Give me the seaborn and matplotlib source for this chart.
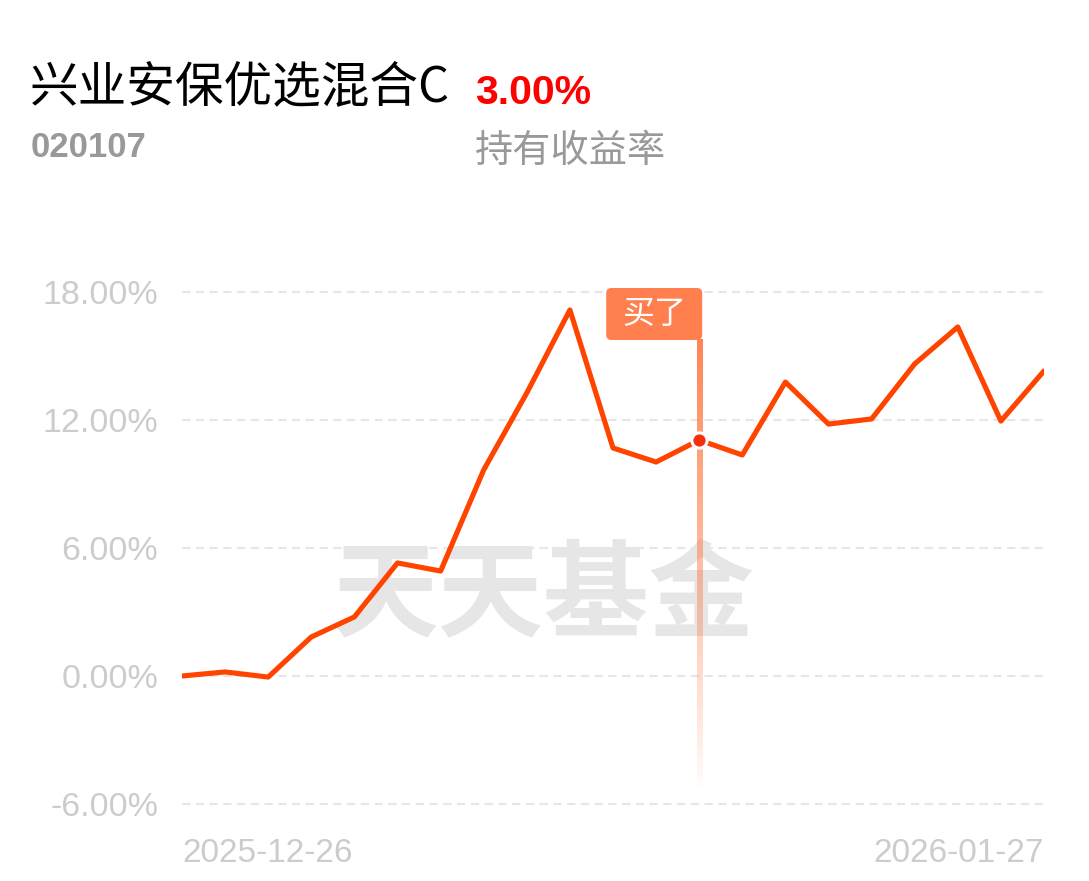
import numpy as np
import pandas as pd
import matplotlib
matplotlib.use("Agg")
import matplotlib.pyplot as plt
import seaborn as sns
from matplotlib.patches import FancyBboxPatch
from matplotlib.colors import to_rgba

# ---- data ----
dates = ["2025-12-26", "2025-12-29", "2025-12-30", "2025-12-31", "2026-01-05",
         "2026-01-06", "2026-01-07", "2026-01-08", "2026-01-09", "2026-01-12",
         "2026-01-13", "2026-01-14", "2026-01-15", "2026-01-16", "2026-01-19",
         "2026-01-20", "2026-01-21", "2026-01-22", "2026-01-23", "2026-01-26",
         "2026-01-27"]
returns = [0.00, 0.19, -0.05, 1.83, 2.77, 5.30, 4.92, 9.66, 13.27, 17.16,
           10.69, 10.03, 11.06, 10.36, 13.78, 11.81, 12.05, 14.63, 16.36, 11.95,
           14.30]
buy_date = "2026-01-15"
y_ticks = [-6, 0, 6, 12, 18]
y_tick_labels = [f"{v:.2f}%" for v in y_ticks]
x_tick_labels = [dates[0], dates[-1]]
fund_name = "兴业安保优选混合C"
fund_code = "020107"
hold_return = "3.00%"
hold_label = "持有收益率"
buy_label = "买了"
watermark = "天天基金"

df = pd.DataFrame({"idx": np.arange(len(dates)), "date": dates, "ret": returns})
buy_idx = dates.index(buy_date)
buy_val = returns[buy_idx]

# ---- style ----
sns.set_theme(style="white")
plt.rcParams["font.family"] = ["Liberation Sans", "Noto Sans CJK SC", "DejaVu Sans"]

W, H = 1089, 881
fig = plt.figure(figsize=(W / 100, H / 100), dpi=100)
fig.patch.set_facecolor("white")

ylo, yhi = -6.3, 18.6
ax = fig.add_axes([182 / W, 1 - 810.4 / H, 862 / W, (810.4 - 279.2) / H])
ax.set_facecolor("white")

LINE = "#FF4400"
GRID = "#e6e6e6"
TICK = "#cccccc"

# grid lines
for v in y_ticks:
    ax.axhline(v, color=GRID, lw=1.5, ls=(0, (4, 2.6)), zorder=0)

# watermark
ax.text(0.42, 0.40, watermark, transform=ax.transAxes, ha="center", va="center",
        fontsize=76, fontweight="bold", color="#e6e6e6",
        family=["Noto Sans CJK SC"], zorder=0.5)

# buy vertical gradient line (image column with fading alpha)
ppx = 862 / (len(dates) - 1)        # px per index
ppy = (810.4 - 279.2) / (yhi - ylo)  # px per %
top_v, bot_v = 15.75, -5.4
n = 200
base = np.array(to_rgba("#FF7A45"))
grad = np.tile(base, (n, 1, 1))
t = np.linspace(0, 1, n)
grad[:, 0, 3] = 0.92 * (1 - t) ** 0.9
half = 2.7 / ppx
ax.imshow(grad, extent=(buy_idx - half, buy_idx + half, bot_v, top_v),
          origin="upper", aspect="auto", interpolation="bilinear", zorder=1)

# main line
sns.lineplot(data=df, x="idx", y="ret", ax=ax, color=LINE, lw=3.7, zorder=3,
             solid_joinstyle="round", solid_capstyle="round", legend=False)

# buy marker
ax.plot([buy_idx], [buy_val], "o", ms=11, mfc="#F5300F", mec="white", mew=2.2, zorder=4)

# buy label box
box_right = buy_idx + 3 / ppx
box_left = buy_idx - 93 / ppx
box_top = 18 + 4 / ppy
box_bot = top_v
box = FancyBboxPatch((box_left, box_bot), box_right - box_left, box_top - box_bot,
                     boxstyle="round,pad=0,rounding_size=0.12",
                     mutation_aspect=ppx / ppy,
                     fc="#FF7F4F", ec="none", zorder=2, clip_on=False)
ax.add_patch(box)
ax.text((box_left + box_right) / 2, (box_top + box_bot) / 2, buy_label,
        ha="center", va="center", color="white", fontsize=23,
        family=["Noto Sans CJK SC"], zorder=5)

# axes
ax.set_xlim(0, len(dates) - 1)
ax.set_ylim(ylo, yhi)
ax.set_yticks(y_ticks)
ax.set_yticklabels(y_tick_labels)
ax.set_xticks([0, len(dates) - 1])
ax.set_xticklabels(x_tick_labels)
ax.tick_params(axis="y", length=0, pad=17, labelsize=24.5, labelcolor=TICK)
ax.tick_params(axis="x", length=0, pad=20, labelsize=24, labelcolor=TICK)
xt = ax.get_xticklabels()
xt[0].set_ha("left")
xt[1].set_ha("right")
ax.set_xlabel("")
ax.set_ylabel("")
for s in ax.spines.values():
    s.set_visible(False)

# header texts
fig.text(30 / W, 1 - 101 / H, fund_name, fontsize=35, color="black",
         family=["Noto Sans CJK SC"], ha="left", va="baseline")
fig.text(475 / W, 1 - 104 / H, hold_return, fontsize=29.5,
         color="#FF0000", fontweight="bold", ha="left", va="baseline")
fig.text(31 / W, 1 - 157 / H, fund_code, fontsize=25,
         color="#999999", fontweight="bold", ha="left", va="baseline")
fig.text(475 / W, 1 - 162 / H, hold_label, fontsize=27.5, color="#999999",
         family=["Noto Sans CJK SC"], ha="left", va="baseline")

fig.savefig("out.png", dpi=100, facecolor="white")
